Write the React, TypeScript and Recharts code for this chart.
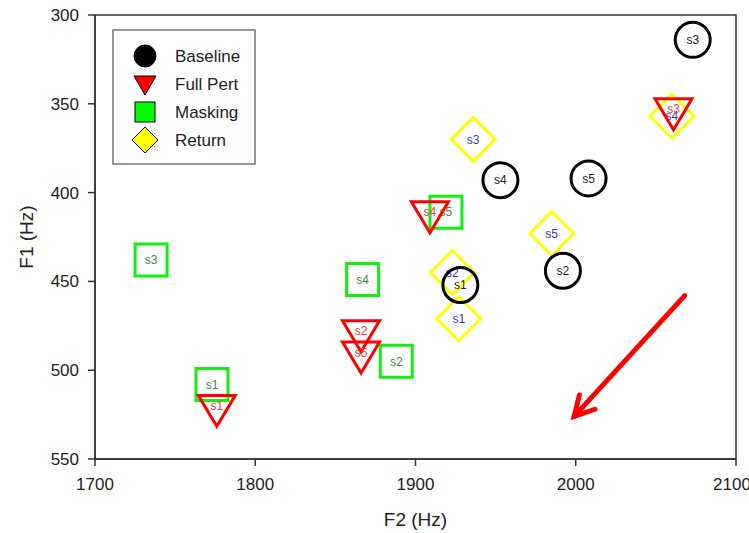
import React from 'react';
import {
  ScatterChart, Scatter, XAxis, YAxis, ReferenceArea, ReferenceLine,
} from 'recharts';

const subjects = ['s1', 's2', 's3', 's4', 's5'];

// F2 / F1 (Hz) per subject, s1..s5
const baselineF2 = [1928, 1992, 2073, 1953, 2008];
const baselineF1 = [452, 444, 314, 393, 392];
const fullPertF2 = [1776, 1866, 2061, 1909, 1866];
const fullPertF1 = [520, 478, 353, 411, 490];
const maskingF2 = [1773, 1888, 1735, 1867, 1919];
const maskingF1 = [508, 495, 438, 449, 411];
const returnF2 = [1927, 1923, 1936, 2060, 1985];
const returnF1 = [471, 445, 370, 357, 423];

const xTicks = [1700, 1800, 1900, 2000, 2100];
const yTicks = [300, 350, 400, 450, 500, 550];

// red annotation arrow (F2, F1)
const arrowFrom = { x: 2068, y: 458 };
const arrowTo = { x: 1999, y: 526 };

const build = (f2: number[], f1: number[]) =>
  subjects.map((s, i) => ({ f2: f2[i], f1: f1[i], label: s }));

const FONT = '"Liberation Sans", Arial, sans-serif';

type Kind = 'circle' | 'triangle' | 'square' | 'diamond';

const markerPath = (kind: Kind, cx: number, cy: number) => {
  if (kind === 'triangle') {
    const w = 18.5, h = 31;
    return `M${cx - w},${cy - h / 3} L${cx + w},${cy - h / 3} L${cx},${cy + (2 * h) / 3} Z`;
  }
  if (kind === 'square') {
    const a = 16;
    return `M${cx - a},${cy - a} h${2 * a} v${2 * a} h${-2 * a} Z`;
  }
  const d = 22;
  return `M${cx},${cy - d} L${cx + d},${cy} L${cx},${cy + d} L${cx - d},${cy} Z`;
};

const makeShape = (kind: Kind, stroke: string, textColor: string) => (props: any) => {
  const { cx, cy, payload } = props;
  return (
    <g>
      {kind === 'circle' ? (
        <circle cx={cx} cy={cy} r={17.5} fill="none" stroke={stroke} strokeWidth={3} />
      ) : (
        <path d={markerPath(kind, cx, cy)} fill="none" stroke={stroke} strokeWidth={3} />
      )}
      <text x={cx} y={cy} dy="0.35em" textAnchor="middle" fontSize={12} fill={textColor} fontFamily={FONT}>
        {payload.label}
      </text>
    </g>
  );
};

const legendItems: { name: string; kind: Kind; fill: string }[] = [
  { name: 'Baseline', kind: 'circle', fill: '#000000' },
  { name: 'Full Pert', kind: 'triangle', fill: '#ff0000' },
  { name: 'Masking', kind: 'square', fill: '#00ff00' },
  { name: 'Return', kind: 'diamond', fill: '#ffff00' },
];

const LegendBox = () => (
  <svg width={144} height={136} style={{ display: 'block' }}>
    <rect x={1} y={1} width={142} height={134} fill="#fff" stroke="#777" strokeWidth={1.5} />
    {legendItems.map((it, i) => {
      const cy = 27 + i * 28;
      const cx = 33;
      return (
        <g key={it.name}>
          {it.kind === 'circle' ? (
            <circle cx={cx} cy={cy} r={11} fill={it.fill} stroke="#000" />
          ) : it.kind === 'triangle' ? (
            <path d={`M${cx - 11},${cy - 8} L${cx + 11},${cy - 8} L${cx},${cy + 11} Z`} fill={it.fill} stroke="#000" />
          ) : it.kind === 'square' ? (
            <rect x={cx - 10} y={cy - 10} width={20} height={20} fill={it.fill} stroke="#000" />
          ) : (
            <path d={`M${cx},${cy - 13} L${cx + 13},${cy} L${cx},${cy + 13} L${cx - 13},${cy} Z`} fill={it.fill} stroke="#000" />
          )}
          <text x={63} y={cy} dy="0.35em" fontSize={17} fill="#222" fontFamily={FONT}>{it.name}</text>
        </g>
      );
    })}
  </svg>
);

const Arrow = (props: any) => {
  const { x1, y1, x2, y2 } = props;
  const ang = Math.atan2(y1 - y2, x1 - x2);
  const len = 22, spread = 0.5;
  const b1 = [x2 + len * Math.cos(ang + spread), y2 + len * Math.sin(ang + spread)];
  const b2 = [x2 + len * Math.cos(ang - spread), y2 + len * Math.sin(ang - spread)];
  return (
    <g>
      <line x1={x1} y1={y1} x2={x2} y2={y2} stroke="#ff0000" strokeWidth={5} strokeLinecap="round" />
      <polyline points={`${b1[0]},${b1[1]} ${x2},${y2} ${b2[0]},${b2[1]}`} fill="none" stroke="#ff0000" strokeWidth={5} strokeLinecap="round" />
    </g>
  );
};

export default function App() {
  const tickStyle = { fontSize: 17, fill: '#222', fontFamily: FONT };
  return (
    <div style={{ position: 'absolute', left: 0, top: 0, width: 749, height: 533, background: '#fff' }}>
      <ScatterChart width={749} height={533} margin={{ top: 15, right: 13, bottom: 0, left: 0 }}>
        <ReferenceArea x1={1700} x2={2100} y1={300} y2={550} fill="none" stroke="#333" strokeWidth={1.5} fillOpacity={0} />
        <XAxis
          type="number"
          dataKey="f2"
          domain={[1700, 2100]}
          ticks={xTicks}
          height={74}
          tickSize={7}
          tickMargin={12}
          tick={tickStyle}
          stroke="#333"
          strokeWidth={1.5}
          label={{
            content: ({ viewBox }: any) => (
              <text x={viewBox.x + viewBox.width / 2} y={526} textAnchor="middle" fontSize={19} fill="#222" fontFamily={FONT}>
                F2 (Hz)
              </text>
            ),
          }}
        />
        <YAxis
          type="number"
          dataKey="f1"
          domain={[300, 550]}
          reversed
          ticks={yTicks}
          width={95}
          tickSize={7}
          tickMargin={9}
          tick={tickStyle}
          stroke="#333"
          strokeWidth={1.5}
          label={{
            content: ({ viewBox }: any) => {
              const cx = 26, cy = viewBox.y + viewBox.height / 2;
              return (
                <text x={cx} y={cy} dy="0.35em" textAnchor="middle" fontSize={19} fill="#222" fontFamily={FONT} transform={`rotate(-90 ${cx} ${cy})`}>
                  F1 (Hz)
                </text>
              );
            },
          }}
        />
        <Scatter name="Return" data={build(returnF2, returnF1)} isAnimationActive={false} shape={makeShape('diamond', '#ffff00', '#3535d0')} />
        <Scatter name="Masking" data={build(maskingF2, maskingF1)} isAnimationActive={false} shape={makeShape('square', '#11ee11', '#3f8a3f')} />
        <Scatter name="Full Pert" data={build(fullPertF2, fullPertF1)} isAnimationActive={false} shape={makeShape('triangle', '#ff0000', '#e8403a')} />
        <Scatter name="Baseline" data={build(baselineF2, baselineF1)} isAnimationActive={false} shape={makeShape('circle', '#000000', '#222222')} />
        <ReferenceLine segment={[arrowFrom, arrowTo]} shape={Arrow} />
      </ScatterChart>
      <div style={{ position: 'absolute', left: 112, top: 29 }}>
        <LegendBox />
      </div>
    </div>
  );
}
